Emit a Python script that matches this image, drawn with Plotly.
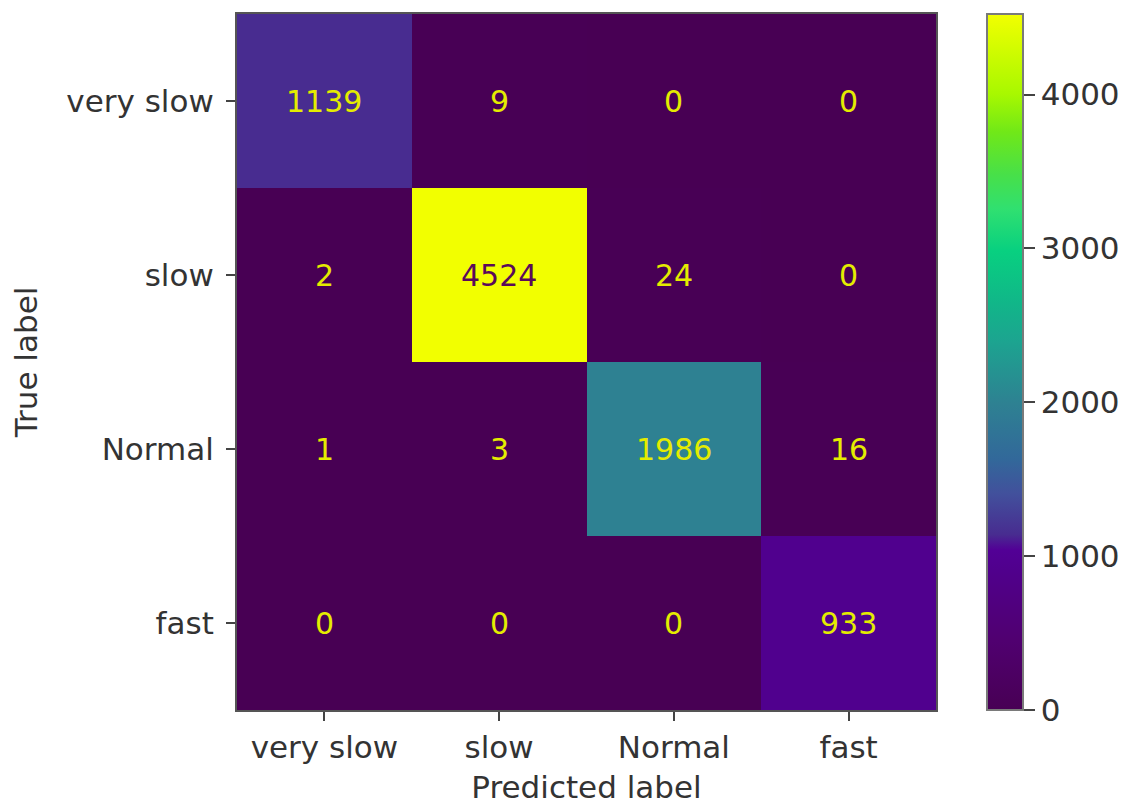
import plotly.graph_objects as go

labels = ["very slow", "slow", "Normal", "fast"]
# rows = true label, cols = predicted label
row_very_slow = [1139, 9, 0, 0]
row_slow = [2, 4524, 24, 0]
row_normal = [1, 3, 1986, 16]
row_fast = [0, 0, 0, 933]
z = [row_very_slow, row_slow, row_normal, row_fast]
cbar_ticks = [0, 1000, 2000, 3000, 4000]

# saturated viridis-like colormap as seen in the reference
colorscale = [
    [0.0, "#480054"], [0.10, "#500070"], [0.20, "#50008c"], [0.23, "#520096"],
    [0.252, "#482c90"], [0.31, "#42509c"], [0.36, "#32689a"], [0.44, "#2e8192"],
    [0.53, "#1ca490"], [0.59, "#10b888"], [0.66, "#08d080"], [0.72, "#30e070"],
    [0.77, "#48e048"], [0.83, "#70e818"], [0.885, "#a8f800"], [1.0, "#f2ff00"],
]

# page body has an 8px margin, so the figure is shifted by 8px
OFF = 8
W, H = 1127 - OFF, 805 - OFF
L, R, T, B = 237 - OFF, 936 - OFF, 12 - OFF, 712 - OFF
FONT = "DejaVu Sans"
TXT = "#333333"
FS = 31

fig = go.Figure()
fig.add_trace(go.Heatmap(
    z=z, x=labels, y=labels, colorscale=colorscale, zmin=0,
    showscale=True,
    colorbar=dict(
        x=(987 - 237) / (936 - 237), xanchor="left", xref="paper",
        y=0.5, yanchor="middle", len=1, lenmode="fraction",
        thickness=36, thicknessmode="pixels", xpad=0, ypad=0,
        outlinewidth=2, outlinecolor="#7a7a7a",
        tickvals=cbar_ticks, ticks="outside", ticklen=11, tickwidth=2, tickcolor="#444444",
        tickfont=dict(family=FONT, size=FS, color=TXT),
    ),
    hoverinfo="skip",
))

zmax = max(max(r) for r in z)
annotations = []
for i, row in enumerate(z):
    for j, v in enumerate(row):
        col = "#5a0a5a" if v > zmax / 2 else "#e4ec00"
        annotations.append(dict(x=labels[j], y=labels[i], text=str(v), showarrow=False,
                                font=dict(family=FONT, size=30, color=col)))

fig.update_layout(
    width=W, height=H,
    margin=dict(l=L, r=W - R, t=T, b=H - B, pad=0),
    paper_bgcolor="white", plot_bgcolor="white",
    font=dict(family=FONT, size=FS, color=TXT),
    annotations=annotations,
    xaxis=dict(
        showgrid=False, zeroline=False, showline=True, mirror=True,
        linecolor="#555555", linewidth=2,
        ticks="outside", ticklen=9, tickwidth=2, tickcolor="#444444",
        tickfont=dict(family=FONT, size=FS, color=TXT),
        title=dict(text="Predicted label", font=dict(family=FONT, size=FS, color=TXT), standoff=14),
    ),
    yaxis=dict(
        autorange="reversed",
        showgrid=False, zeroline=False, showline=True, mirror=True,
        linecolor="#555555", linewidth=2,
        ticks="outside", ticklen=9, tickwidth=2, tickcolor="#444444",
        ticklabelstandoff=6,
        tickfont=dict(family=FONT, size=FS, color=TXT),
        title=dict(text="True label", font=dict(family=FONT, size=FS, color=TXT), standoff=19),
    ),
)

fig.write_html("out.html")
